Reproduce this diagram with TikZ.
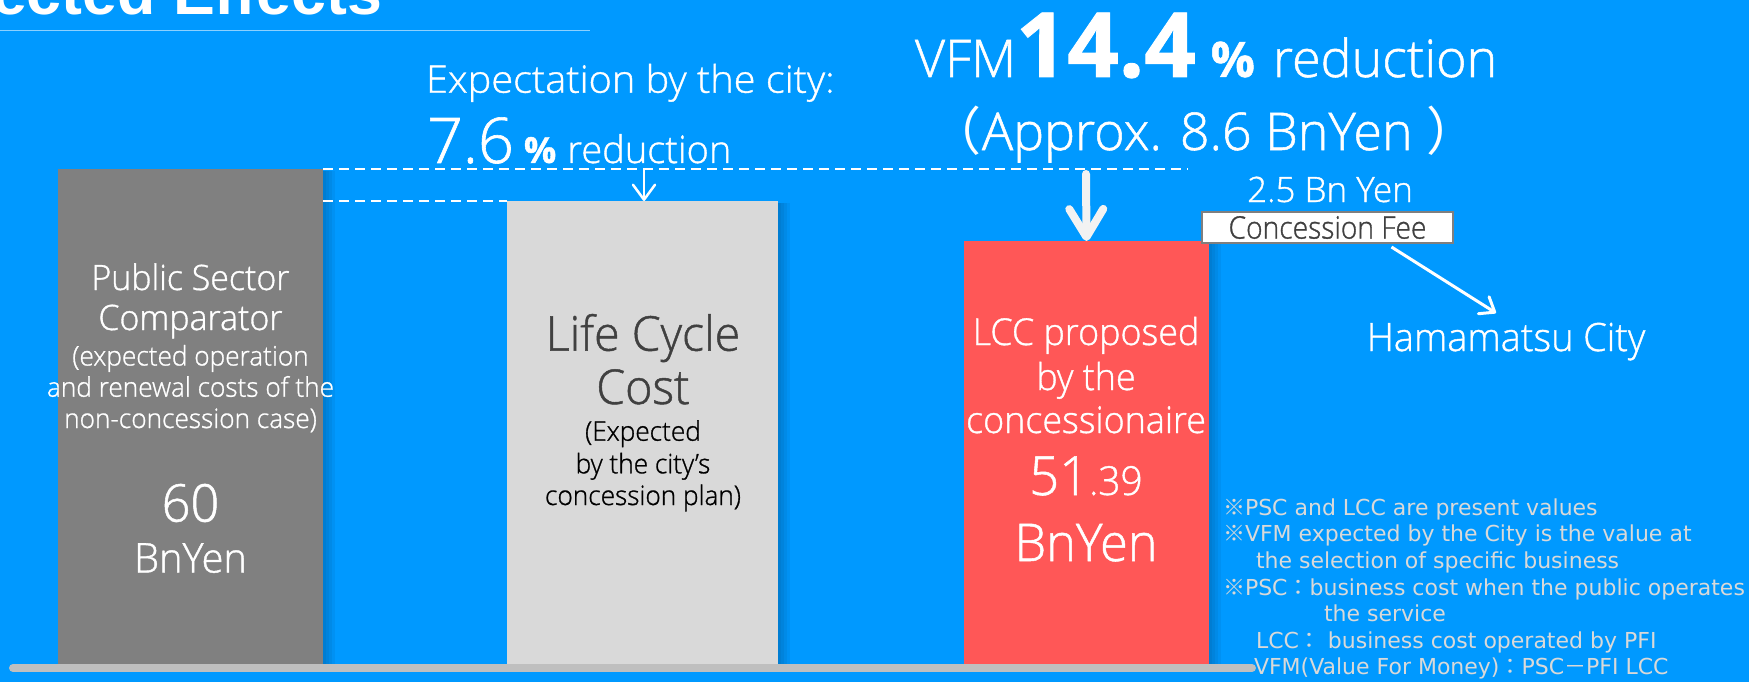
\documentclass[tikz,border=0pt]{standalone}
\usepackage{fontspec}
\setmainfont{Open Sans Light}[BoldFont=Open Sans Bold, FakeStretch=0.97, FakeBold=1]
\newfontfamily\headfont{Open Sans Light}[BoldFont=Open Sans Bold, FakeBold=1]
\newfontfamily\expfont{Open Sans Light}[FakeStretch=1.045, FakeBold=1]
\newfontfamily\feefont{Open Sans Light}[FakeStretch=0.91, FakeBold=1]
\newfontfamily\notefont{DejaVu Sans}
\newfontfamily\cjk{Noto Sans CJK JP}
\newfontfamily\titlefont{Liberation Sans}
\usetikzlibrary{arrows.meta}
\definecolor{bgblue}{HTML}{0099FF}
\definecolor{shadowblue}{HTML}{003A66}
\definecolor{pscgray}{HTML}{808080}
\definecolor{lccgray}{HTML}{D9D9D9}
\definecolor{lccred}{HTML}{FF5757}
\definecolor{notegray}{HTML}{D9D9D9}
\definecolor{bargray}{HTML}{BFBFBF}
\definecolor{darktext}{HTML}{404040}
\definecolor{framegray}{HTML}{7F7F7F}
\definecolor{arrowwhite}{HTML}{F2F2F2}
\newcommand\fsz[1]{\fontsize{#1}{#1}\selectfont}
\begin{document}
\begin{tikzpicture}[x=1pt,y=-1pt,
  txt/.style={inner sep=0pt, outer sep=0pt, anchor=base},
  bar/.style={inner sep=0pt, outer sep=0pt, anchor=north west, draw=none},
  dashline/.style={white, line width=1.6pt, dash pattern=on 10pt off 6pt},
  thinarrow/.style={white, line width=2.5pt, -{Straight Barb[length=15pt,width=22pt,round]}},
  bigarrow/.style={arrowwhite, line width=8pt, line cap=round, -{Straight Barb[length=28pt,width=34pt,round]}},
  feearrow/.style={white, line width=3pt, -{Straight Barb[length=13pt,width=20pt,round]}},
  notes/.style={txt, anchor=base west, text=notegray, font=\notefont\fsz{22}}
]
\useasboundingbox (0,0) rectangle (1749,682);
\clip (0,0) rectangle (1749,682);
\fill[bgblue] (0,0) rectangle (1749,682);

% title
\node[txt, anchor=base west, text=white, font=\titlefont\bfseries\fsz{62.7}] (title) at (-8,15) {ected Effects};
\draw[white, opacity=0.55, line width=1.5pt] (0,30.7) -- (590,30.7);

% shadows
\foreach \k in {3,6,9,12}{
  \fill[shadowblue, opacity=0.08] (58+\k,171) rectangle (323+\k,666);
  \fill[shadowblue, opacity=0.08] (507+\k,203) rectangle (778+\k,666);
  \fill[shadowblue, opacity=0.08] (964+\k,243) rectangle (1209+\k,666);
}

% bars
\node[bar, fill=pscgray, minimum width=265pt, minimum height=497pt] (psc) at (58,169) {};
\node[bar, fill=lccgray, minimum width=271pt, minimum height=465pt] (lcc) at (507,201) {};
\node[bar, fill=lccred, minimum width=245pt, minimum height=425pt] (red) at (964,241) {};

% ground
\draw[bargray, line width=8pt, line cap=round] (13,668) -- (1252,668);

% dashed guide lines
\coordinate (dashend) at (1188,169);
\draw[dashline] (psc.north east) -- (dashend);
\draw[dashline] (psc.east |- lcc.north west) -- (lcc.north west);

% arrows
\coordinate (a1start) at (644,169);
\draw[thinarrow] (a1start) -- (a1start |- lcc.north);
\coordinate (a2start) at (1086,174);
\draw[bigarrow] (a2start) -- (red.north);

% headline texts
\node[txt, anchor=base west, text=white, font=\expfont\fsz{38}] (exp) at (426,92.7) {Expectation by the city:};
\node[txt, anchor=base west, text=white, font=\headfont] (exppct) at (427,163) {{\fsz{63}7.6}\hspace{10pt}{\bfseries\fsz{36}\%}\hspace{11pt}{\fsz{38}reduction}};
\node[txt, anchor=base west, text=white, font=\headfont] (vfm) at (915,77) {{\fsz{52}VFM}{\bfseries\fsz{90}14.4}\hspace{15pt}{\bfseries\fsz{49}\%}\hspace{18pt}{\fsz{52}reduction}};
\node[txt, text=white, font=\headfont\fsz{52}] (approx) at (1204,150) {{\cjk （}Approx. 8.6 BnYen {\cjk ）}};

% concession fee
\node[txt, text=white, font=\headfont\fsz{35}] (amount) at (1330,202) {2.5 Bn Yen};
\node[draw=framegray, line width=2pt, fill=white, minimum width=251pt, minimum height=31pt, inner sep=0pt, text=darktext, font=\feefont\fsz{31}] (fee) at (1327.5,227.5) {Concession Fee};
\node[txt, text=white, font=\fsz{39}] (ham) at (1506,351) {Hamamatsu City};
\coordinate (hamtip) at (1496,313);
\draw[feearrow] ([xshift=64pt,yshift=-3pt]fee.south) -- (hamtip);

% PSC texts
\node[txt, text=white, font=\fsz{35}] (psc1) at (190.5,290) {Public Sector};
\node[txt, text=white, font=\fsz{35}] (psc2) at (190.5,330) {Comparator};
\node[txt, text=white, font=\fsz{27}] (psc3) at (190.5,365.5) {(expected operation};
\node[txt, text=white, font=\fsz{27}] (psc4) at (190.5,396.7) {and renewal costs of the};
\node[txt, text=white, font=\fsz{27}] (psc5) at (190.5,428) {non-concession case)};
\node[txt, text=white, font=\fsz{52}] (psc6) at (190.5,521.6) {60};
\node[txt, text=white, font=\fsz{41}] (psc7) at (190.5,572.5) {BnYen};

% LCC texts
\node[txt, text=darktext, font=\fsz{48}] (lcc1) at (643,350.7) {Life Cycle};
\node[txt, text=darktext, font=\fsz{48}] (lcc2) at (643,404) {Cost};
\node[txt, text=black, font=\fsz{27}] (lcc3) at (643,440.7) {(Expected};
\node[txt, text=black, font=\fsz{27}] (lcc4) at (643,473.3) {by the city’s};
\node[txt, text=black, font=\fsz{27}] (lcc5) at (643,505) {concession plan)};

% Concessionaire texts
\node[txt, text=white, font=\fsz{37}] (red1) at (1086,345) {LCC proposed};
\node[txt, text=white, font=\fsz{37}] (red2) at (1086,390) {by the};
\node[txt, text=white, font=\fsz{37}] (red3) at (1086,433) {concessionaire};
\node[txt, text=white] (red4) at (1086,495) {{\fsz{54}51}{\fsz{40}.39}};
\node[txt, text=white, font=\fsz{52}] (red5) at (1086,561) {BnYen};

% notes
\node[notes] (note1) at (1223,515) {{\cjk ※}PSC and LCC are present values};
\node[notes] (note2) at (1223,541.7) {{\cjk ※}VFM expected by the City is the value at};
\node[notes] (note3) at (1256,568) {the selection of specific business};
\node[notes] (note4) at (1223,595) {{\cjk ※}PSC{\cjk ：}business cost when the public operates};
\node[notes] (note5) at (1324,621.7) {the service};
\node[notes] (note6) at (1256,648) {LCC{\cjk ：}\ business cost operated by PFI};
\node[notes] (note7) at (1254,674) {VFM(Value For Money){\cjk ：}PSC{\cjk －}PFI LCC};
\end{tikzpicture}
\end{document}
